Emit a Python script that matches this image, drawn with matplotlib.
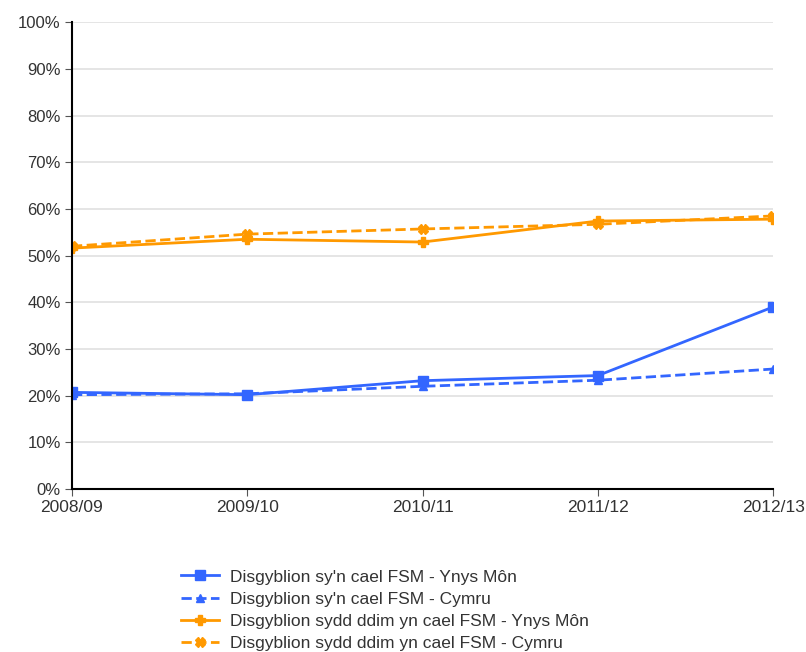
import matplotlib.pyplot as plt
import numpy as np

plt.rcParams['font.family'] = ['Liberation Sans', 'DejaVu Sans']

years = ['2008/09', '2009/10', '2010/11', '2011/12', '2012/13']
fsm_mon = [20.7, 20.2, 23.2, 24.3, 39.0]
fsm_cymru = [20.2, 20.4, 22.0, 23.3, 25.7]
nonfsm_mon = [51.6, 53.5, 52.9, 57.4, 57.8]
nonfsm_cymru = [52.0, 54.6, 55.7, 56.7, 58.5]

labels = ["Disgyblion sy'n cael FSM - Ynys Môn",
          "Disgyblion sy'n cael FSM - Cymru",
          "Disgyblion sydd ddim yn cael FSM - Ynys Môn",
          "Disgyblion sydd ddim yn cael FSM - Cymru"]

blue = '#3366ff'
orange = '#ff9900'

fig = plt.figure(figsize=(8.06, 6.52), dpi=100)
ax = fig.add_axes([0.0893, 0.25, 0.870, 0.716])
x = np.arange(len(years))

ax.plot(x, fsm_mon, '-', color=blue, lw=2, marker='s', ms=7, label=labels[0])
ax.plot(x, fsm_cymru, '--', color=blue, lw=2, marker='^', ms=6, label=labels[1])
ax.plot(x, nonfsm_mon, '-', color=orange, lw=2, marker='P', ms=7, label=labels[2])
ax.plot(x, nonfsm_cymru, '--', color=orange, lw=2, marker='X', ms=7, label=labels[3])

ax.set_xlim(0, 4)
ax.set_ylim(0, 100)
ax.set_xticks(x)
ax.set_xticklabels(years, fontsize=12.5)
ax.set_yticks(range(0, 101, 10))
ax.set_yticklabels(['{}%'.format(v) for v in range(0, 101, 10)], fontsize=12)
ax.yaxis.grid(True, color='#e0e0e0', lw=1.2)
ax.set_axisbelow(True)
for s in ['top', 'right']:
    ax.spines[s].set_visible(False)
ax.spines['left'].set_linewidth(1.5)
ax.spines['bottom'].set_linewidth(1.5)
ax.tick_params(length=5, color='#555555', labelcolor='#333333', pad=3)

fig.legend(loc='upper left', bbox_to_anchor=(0.214, 0.14), frameon=False,
           fontsize=12.5, handlelength=2.2, handletextpad=0.6,
           labelspacing=0.4, borderpad=0, labelcolor='#333333')

plt.savefig('out.png', dpi=100)
